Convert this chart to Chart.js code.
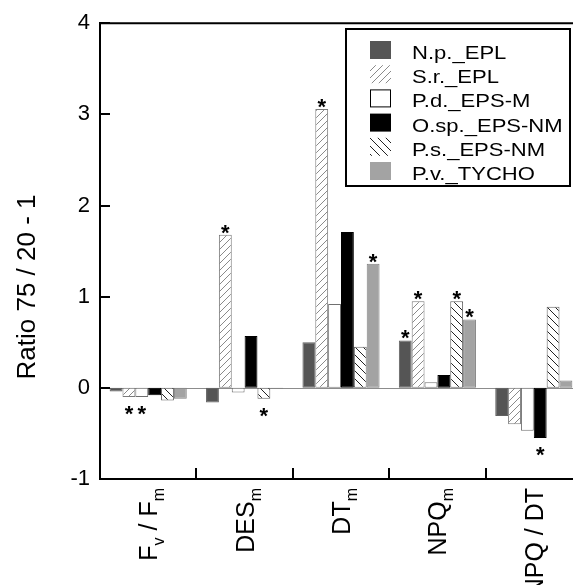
<!DOCTYPE html>
<html>
<head>
<meta charset="utf-8">
<script src="https://cdn.jsdelivr.net/npm/chart.js@4.4.1/dist/chart.umd.min.js"></script>
<style>
  html, body { margin: 0; padding: 0; overflow: hidden; background: #fff; }
  canvas { display: block; }
</style>
</head>
<body>
<canvas id="chart" width="590" height="585"></canvas>
<script>
// categories, "_x" marks a subscript
const categories = ["F_v / F_m", "DES_m", "DT_m", "NPQ_m", "NPQ / DT"];
const seriesNames = ["N.p._EPL", "S.r._EPL", "P.d._EPS-M", "O.sp._EPS-NM", "P.s._EPS-NM", "P.v._TYCHO"];
const yTicks = [-1, 0, 1, 2, 3, 4];

const npValues = [-0.04, -0.16, 0.50, 0.52, -0.31];
const srValues = [-0.10, 1.68, 3.06, 0.95, -0.40];
const pdValues = [-0.10, -0.05, 0.92, 0.06, -0.47];
const ospValues = [-0.08, 0.57, 1.71, 0.14, -0.55];
const psValues = [-0.14, -0.12, 0.45, 0.95, 0.89];
const pvValues = [-0.12, -0.01, 1.36, 0.75, 0.08];

// significance stars (1 = *)
const npSig = [0, 0, 0, 1, 0];
const srSig = [1, 1, 1, 1, 0];
const pdSig = [1, 0, 0, 0, 0];
const ospSig = [0, 0, 0, 0, 1];
const psSig = [0, 1, 0, 1, 0];
const pvSig = [0, 0, 1, 1, 0];

const FONT = "'Liberation Sans', Arial, sans-serif";

function hatch(size, dir, color) {
  const c = document.createElement("canvas");
  c.width = size;
  c.height = size;
  const g = c.getContext("2d");
  g.fillStyle = "#fff";
  g.fillRect(0, 0, size, size);
  g.strokeStyle = color;
  g.lineWidth = 1;
  g.beginPath();
  if (dir === "/") {
    g.moveTo(-1, size + 1); g.lineTo(size + 1, -1);
    g.moveTo(-1, 1); g.lineTo(1, -1);
    g.moveTo(size - 1, size + 1); g.lineTo(size + 1, size - 1);
  } else {
    g.moveTo(-1, -1); g.lineTo(size + 1, size + 1);
    g.moveTo(-1, size - 1); g.lineTo(1, size + 1);
    g.moveTo(size - 1, -1); g.lineTo(size + 1, 1);
  }
  g.stroke();
  return g.createPattern(c, "repeat");
}

const ctx0 = document.getElementById("chart").getContext("2d");
const fills = ["#555555", hatch(7, "/", "#8a8a8a"), "#ffffff", "#000000", hatch(8, "\\", "#222"), "#a3a3a3"];
const borders = ["#606060", "#7a7a7a", "#707070", "#000000", "#606060", "#808080"];
const values = [npValues, srValues, pdValues, ospValues, psValues, pvValues];
const sigs = [npSig, srSig, pdSig, ospSig, psSig, pvSig];

function drawParts(ctx, text, x, y, size, subSize) {
  // text with "_x" subscripts, drawn left to right from x
  const parts = text.split(/_(\w)(?![\w.])/);
  let cx = x;
  parts.forEach((p, i) => {
    if (!p) return;
    const sub = i % 2 === 1;
    ctx.font = (sub ? subSize : size) + "px " + FONT;
    ctx.fillText(p, cx, sub ? y + size * 0.28 : y);
    cx += ctx.measureText(p).width;
  });
  return cx - x;
}

function partsWidth(ctx, text, size, subSize) {
  const parts = text.split(/_(\w)(?![\w.])/);
  let w = 0;
  parts.forEach((p, i) => {
    if (!p) return;
    ctx.font = (i % 2 === 1 ? subSize : size) + "px " + FONT;
    w += ctx.measureText(p).width;
  });
  return w;
}

const decorations = {
  id: "decorations",
  beforeDatasetsDraw(chart) {
    const { ctx, chartArea, scales } = chart;
    const y0 = scales.y.getPixelForValue(0);
    ctx.save();
    ctx.strokeStyle = "#8c8c8c";
    ctx.lineWidth = 1;
    ctx.beginPath();
    ctx.moveTo(chartArea.left, Math.round(y0) + 0.5);
    ctx.lineTo(chartArea.right, Math.round(y0) + 0.5);
    ctx.stroke();
    ctx.restore();
  },
  afterDraw(chart) {
    const { ctx, chartArea, scales } = chart;
    const x = scales.x, y = scales.y;
    ctx.save();
    ctx.strokeStyle = "#000";
    ctx.lineWidth = 2;
    // top frame
    ctx.beginPath();
    ctx.moveTo(chartArea.left - 1, chartArea.top);
    ctx.lineTo(chartArea.right, chartArea.top);
    ctx.stroke();
    // inward y ticks
    yTicks.forEach(v => {
      const py = Math.round(y.getPixelForValue(v));
      ctx.beginPath();
      ctx.moveTo(chartArea.left, py);
      ctx.lineTo(chartArea.left + 10, py);
      ctx.stroke();
    });
    // inward x ticks between groups
    for (let i = 0; i < categories.length - 1; i++) {
      const px = Math.round((x.getPixelForValue(i) + x.getPixelForValue(i + 1)) / 2);
      ctx.beginPath();
      ctx.moveTo(px, chartArea.bottom);
      ctx.lineTo(px, chartArea.bottom - 11);
      ctx.stroke();
    }

    // x labels, rotated
    ctx.fillStyle = "#000";
    ctx.textBaseline = "alphabetic";
    ctx.textAlign = "left";
    categories.forEach((c, i) => {
      const px = x.getPixelForValue(i);
      const w = partsWidth(ctx, c, 25, 16);
      ctx.save();
      ctx.translate(px, chartArea.bottom + 9);
      ctx.rotate(-Math.PI / 2);
      drawParts(ctx, c, -w, 9, 25, 16);
      ctx.restore();
    });

    // y title
    ctx.save();
    ctx.translate(28, 287);
    ctx.rotate(-Math.PI / 2);
    ctx.textAlign = "center";
    ctx.textBaseline = "middle";
    ctx.font = "26px " + FONT;
    ctx.fillText("Ratio 75 / 20 - 1", 0, 0);
    ctx.restore();

    // asterisks
    ctx.font = "bold 22px " + FONT;
    ctx.textAlign = "center";
    ctx.textBaseline = "alphabetic";
    sigs.forEach((s, d) => {
      const meta = chart.getDatasetMeta(d);
      s.forEach((flag, i) => {
        if (!flag) return;
        const bar = meta.data[i];
        if (values[d][i] >= 0) ctx.fillText("*", bar.x, bar.y + 5);
        else ctx.fillText("*", bar.x, bar.y + 24);
      });
    });

    // legend
    ctx.lineWidth = 2;
    ctx.strokeRect(346, 29, 224, 157);
    seriesNames.forEach((name, i) => {
      const base = 59 + i * 24.2;
      ctx.fillStyle = fills[i];
      ctx.fillRect(370, base - 18, 21, 18);
      if (fills[i] === "#ffffff") {
        ctx.lineWidth = 1;
        ctx.strokeStyle = "#000";
        ctx.strokeRect(370.5, base - 17.5, 20, 17);
      }
      ctx.save();
      ctx.fillStyle = "#000";
      ctx.textAlign = "left";
      ctx.translate(412, base);
      ctx.scale(1.16, 1);
      ctx.font = "19px " + FONT;
      ctx.fillText(name, 0, 0);
      ctx.restore();
    });
    ctx.restore();
  }
};

new Chart(ctx0, {
  type: "bar",
  data: {
    labels: categories,
    datasets: seriesNames.map((name, i) => ({
      label: name,
      data: values[i],
      backgroundColor: fills[i],
      borderColor: borders[i],
      borderWidth: 1,
      borderSkipped: false,
      categoryPercentage: 0.8,
      barPercentage: 1.0,
    })),
  },
  options: {
    responsive: false,
    animation: false,
    devicePixelRatio: 1,
    layout: { padding: { left: 0, top: 21, right: 8, bottom: 0 } },
    plugins: {
      legend: { display: false },
      tooltip: { enabled: false },
    },
    scales: {
      x: {
        grid: { display: false, drawTicks: false },
        border: { display: true, color: "#000", width: 2 },
        ticks: { display: false },
        afterFit: (scale) => { scale.height = 106; },
      },
      y: {
        min: -1,
        max: 4,
        grid: { display: false, drawTicks: false },
        border: { display: true, color: "#000", width: 2 },
        ticks: {
          stepSize: 1,
          padding: 10,
          color: "#000",
          font: { family: FONT, size: 22 },
        },
        afterFit: (scale) => { scale.width = 100; },
      },
    },
  },
  plugins: [decorations],
});
</script>
</body>
</html>
